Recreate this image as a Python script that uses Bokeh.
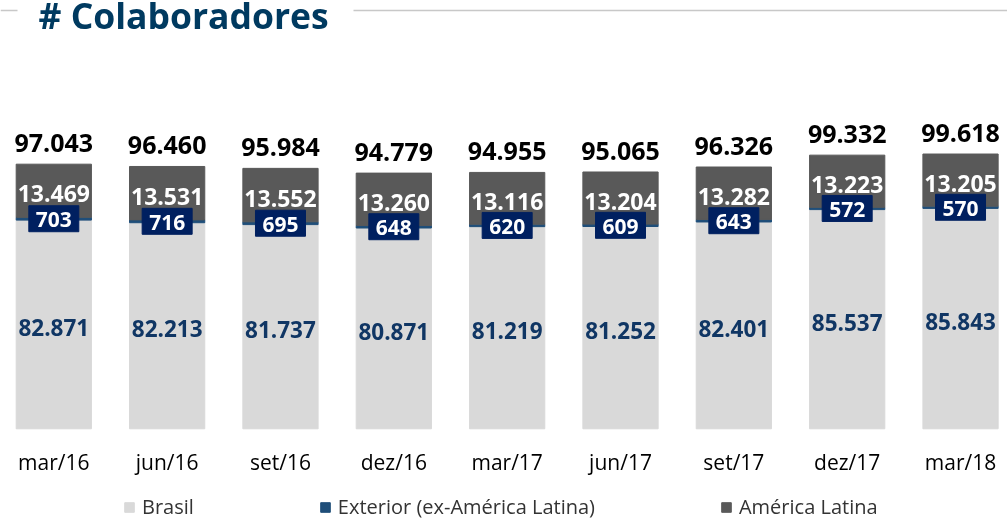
from bokeh.plotting import figure
from bokeh.models import ColumnDataSource, Range1d, Legend, LegendItem
from bokeh.core.properties import value
from bokeh.embed import file_html
from bokeh.resources import INLINE

# ---- data ----
categories = ["mar/16", "jun/16", "set/16", "dez/16", "mar/17", "jun/17", "set/17", "dez/17", "mar/18"]
brasil = [82871, 82213, 81737, 80871, 81219, 81252, 82401, 85537, 85843]
exterior = [703, 716, 695, 648, 620, 609, 643, 572, 570]
america_latina = [13469, 13531, 13552, 13260, 13116, 13204, 13282, 13223, 13205]
series_names = ["Brasil", "Exterior (ex-América Latina)", "América Latina"]
title_text = "# Colaboradores"

# ---- layout constants ----
W, H = 1007, 520
AXIS_MIN = 30000
PX_PER_CAT = 113.34
X_START = -0.4703
PX_PER_UNIT_Y = 0.003947
Y_BOTTOM_PX = 428.3
Y_TOP = AXIS_MIN + Y_BOTTOM_PX / PX_PER_UNIT_Y
Y_BOT = AXIS_MIN - (H - Y_BOTTOM_PX) / PX_PER_UNIT_Y


def dx(px):
    return X_START + px / PX_PER_CAT


def dy(py):
    return Y_TOP - py / PX_PER_UNIT_Y


def fmt(v):
    return f"{v:,}".replace(",", ".")


xs = list(range(len(categories)))
ext_top = [b + e for b, e in zip(brasil, exterior)]
total = [t + a for t, a in zip(ext_top, america_latina)]

src = ColumnDataSource(dict(
    x=xs,
    cat=categories,
    base=[AXIS_MIN] * len(xs),
    brasil=brasil,
    ext_top=ext_top,
    total=total,
    brasil_mid=[(AXIS_MIN + b) / 2 for b in brasil],
    ext_mid=[b + e / 2 for b, e in zip(brasil, exterior)],
    al_mid=[t + a / 2 for t, a in zip(ext_top, america_latina)],
    brasil_lbl=[fmt(v) for v in brasil],
    ext_lbl=[fmt(v) for v in exterior],
    al_lbl=[fmt(v) for v in america_latina],
    total_lbl=[fmt(v) for v in total],
    cat_y=[dy(461)] * len(xs),
))

C_BR = "#d9d9d9"
C_EXT = "#1f4e79"
C_AL = "#595959"
C_BOX = "#002060"
C_NAVY = "#103664"
FONT = value("Open Sans")

p = figure(width=W, height=H, x_range=Range1d(X_START, X_START + W / PX_PER_CAT),
           y_range=Range1d(Y_BOT, Y_TOP), x_axis_type=None, y_axis_type=None,
           toolbar_location=None, output_backend="svg", min_border=0)
p.min_border_left = p.min_border_right = p.min_border_top = p.min_border_bottom = 0
p.grid.visible = False
p.outline_line_color = None
p.background_fill_color = "white"
p.styles = {"position": "fixed", "top": "0px", "left": "0px"}

BW = 0.664
r_br = p.vbar(x="x", bottom="base", top="brasil", width=BW, color=C_BR, source=src)
r_ext = p.vbar(x="x", bottom="brasil", top="ext_top", width=BW, color=C_EXT, source=src)
r_al = p.vbar(x="x", bottom="ext_top", top="total", width=BW, color=C_AL, source=src)

# exterior label boxes
p.rect(x="x", y="ext_mid", width=50, height=26, width_units="screen", height_units="screen",
       color=C_BOX, source=src)
p.text(x="x", y="ext_mid", text="ext_lbl", text_align="center", text_baseline="middle",
       text_font=FONT, text_font_style="bold", text_font_size="21px", text_color="white",
       y_offset=1, source=src)

p.text(x="x", y="brasil_mid", text="brasil_lbl", text_align="center", text_baseline="middle",
       text_font=FONT, text_font_style="bold", text_font_size="22.5px", text_color=C_NAVY,
       y_offset=3, source=src)
p.text(x="x", y="al_mid", text="al_lbl", text_align="center", text_baseline="middle",
       text_font=FONT, text_font_style="bold", text_font_size="23px", text_color="white",
       y_offset=3, source=src)
p.text(x="x", y="total", text="total_lbl", text_align="center", text_baseline="middle",
       text_font=FONT, text_font_style="bold", text_font_size="25px", text_color="black",
       y_offset=-21, source=src)
p.text(x="x", y="cat_y", text="cat", text_align="center", text_baseline="middle",
       text_font=FONT, text_font_size="21px", text_color="black", source=src)

# title and decorative rules
p.segment(x0=[dx(0), dx(353)], y0=[dy(10), dy(10)], x1=[dx(17), dx(W)], y1=[dy(10), dy(10)],
          line_color="#c8c8c8", line_width=1.5)
p.text(x=[dx(38)], y=[dy(14)], text=[title_text], text_font=FONT, text_font_style="bold",
       text_font_size="35.5px", text_color="#003a60", text_baseline="middle",
       text_align="left")

legend = Legend(items=[LegendItem(label=series_names[0], renderers=[r_br]),
                       LegendItem(label=series_names[1], renderers=[r_ext]),
                       LegendItem(label=series_names[2], renderers=[r_al])],
                orientation="horizontal", location=(123, 0), glyph_width=12, glyph_height=12,
                label_standoff=7, spacing=125, padding=0, margin=0,
                border_line_color=None, background_fill_alpha=0,
                label_text_font="Open Sans", label_text_font_size="20px",
                label_text_color="#333333")
p.add_layout(legend)

open("out.html", "w").write(file_html(p, INLINE))
